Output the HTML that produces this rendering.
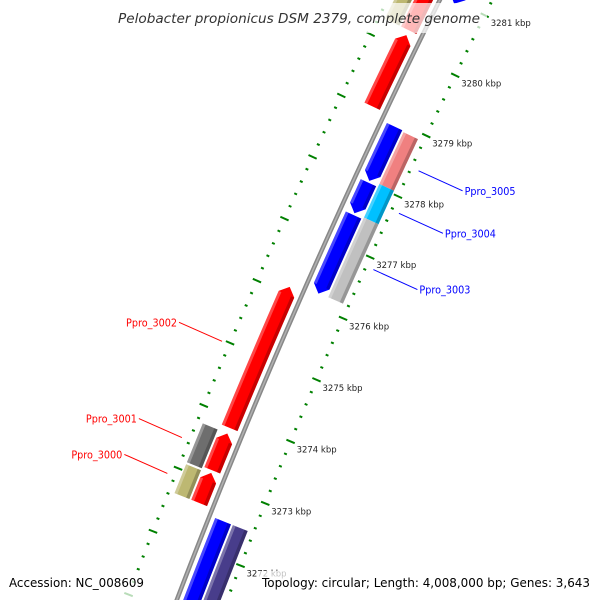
<!DOCTYPE html>
<html><head><meta charset="utf-8"><style>html,body{margin:0;padding:0;background:#fff;width:600px;height:600px;overflow:hidden}svg{display:block}</style></head>
<body>
<svg id="map" width="600" height="600" viewBox="0 0 600 600" xmlns="http://www.w3.org/2000/svg">
<g id="ticks"></g>
<g id="backbone"></g>
<g id="genes"></g>
<g id="labels"></g>
<g id="ticklabels"></g>
<rect x="112" y="3" width="375" height="30" fill="#fff" fill-opacity="0.72"/>
<rect x="4" y="571" width="148" height="29" fill="#fff" fill-opacity="0.72"/>
<rect x="258" y="571" width="342" height="29" fill="#fff" fill-opacity="0.72"/>
<text x="299" y="23" text-anchor="middle" font-family="DejaVu Sans, sans-serif" font-style="italic" font-size="13" fill="#333" textLength="362" lengthAdjust="spacingAndGlyphs">Pelobacter propionicus DSM 2379, complete genome</text>
<text x="9" y="587" font-family="DejaVu Sans, sans-serif" font-size="12" fill="#000" textLength="135" lengthAdjust="spacingAndGlyphs">Accession: NC_008609</text>
<text x="262" y="587" font-family="DejaVu Sans, sans-serif" font-size="12" fill="#000" textLength="328" lengthAdjust="spacingAndGlyphs">Topology: circular; Length: 4,008,000 bp; Genes: 3,643</text>
</svg>
<script>
const majorTicks = [3270, 3271, 3272, 3273, 3274, 3275, 3276, 3277, 3278, 3279, 3280, 3281, 3282];
const tickLabels = ["3272 kbp","3273 kbp","3274 kbp","3275 kbp","3276 kbp","3277 kbp","3278 kbp","3279 kbp","3280 kbp","3281 kbp"];
const tickLabelKbp = [3272, 3273, 3274, 3275, 3276, 3277, 3278, 3279, 3280, 3281];
const geneStart = [3280.3, 3280.3, 3279.05, 3273.84, 3273.16, 3272.64, 3273.13, 3272.64, 3280.95, 3278.03, 3277.5, 3276.19, 3278.05, 3277.5, 3276.2, 3270.5, 3270.5];
const geneEnd   = [3281.6, 3281.6, 3280.22, 3276.11, 3273.75, 3273.12, 3273.75, 3273.1, 3282.0, 3278.92, 3278.0, 3277.47, 3278.9, 3278.05, 3277.5, 3272.52, 3272.52];
const geneStrand = [1, 1, 1, 1, 1, 1, 1, 1, -1, -1, -1, -1, -1, -1, -1, -1, -1];
const geneRing = [1, 2, 1, 1, 1, 1, 2, 2, 1, 1, 1, 1, 2, 2, 2, 1, 2];
const geneArrow = [1, 0, 1, 1, 1, 1, 0, 0, 1, 1, 1, 1, 0, 0, 0, 1, 0];
const geneColor = ["#ff0000","#bdb872","#ff0000","#ff0000","#ff0000","#ff0000","#6e6e6e","#bdb872","#0000ff","#0000ff","#0000ff","#0000ff","#f08080","#00c0ff","#c0c0c0","#0000ff","#483d8b"];
const labelNames = ["Ppro_3005","Ppro_3004","Ppro_3003","Ppro_3002","Ppro_3001","Ppro_3000"];
const labelGene = [12, 13, 14, 3, 6, 7];

const NS = "http://www.w3.org/2000/svg";
const CX = 6615, CY = 3065, R = 6894;
function ang(k){ return (-155.79 + 0.56*(k-3277)) * Math.PI/180; }
function pos(k, d){ const a = ang(k), r = R + d; return [CX + r*Math.cos(a), CY + r*Math.sin(a)]; }
function mk(tag, parent, attrs){ const e = document.createElementNS(NS, tag); for (const k in attrs) e.setAttribute(k, attrs[k]); parent.appendChild(e); return e; }
function band(k0, k1, d0, d1){
  const pts = []; const n = 12;
  for (let i=0;i<=n;i++){ pts.push(pos(k0+(k1-k0)*i/n, d0)); }
  for (let i=n;i>=0;i--){ pts.push(pos(k0+(k1-k0)*i/n, d1)); }
  return pts.map(p=>p[0].toFixed(2)+","+p[1].toFixed(2)).join(" ");
}

// ticks
const tg = document.getElementById('ticks');
for (let k = 3270; k <= 3282.001; k += 0.2) {
  const kk = Math.round(k*10)/10;
  const major = Math.abs(kk - Math.round(kk)) < 1e-6 && majorTicks.includes(Math.round(kk));
  const len = major ? 4.5 : 1.5;
  [47, -47].forEach(c => {
    const a = pos(kk, c-len), b = pos(kk, c+len);
    const l = mk('line', tg, {x1:a[0],y1:a[1],x2:b[0],y2:b[1],stroke:'#008000','stroke-width':2});
    
    
  });
}
// backbone
const bg = document.getElementById('backbone');
const bpts = [];
for (let k=3269.5;k<=3283;k+=0.25) bpts.push(pos(k,0).map(v=>v.toFixed(2)).join(","));
const bl = mk('polyline', bg, {points:bpts.join(" "), fill:'none', stroke:'#888', 'stroke-width':4.5});


const bl2 = mk('polyline', bg, {points:bpts.join(" "), fill:'none', stroke:'#b0b0b0', 'stroke-width':1.5});



// genes
const gg = document.getElementById('genes');
for (let i=0;i<geneStart.length;i++){
  const s = geneStrand[i];
  const dIn = geneRing[i]===1 ? 6 : 25, dOut = geneRing[i]===1 ? 23 : 41;
  const d0 = s*dIn, d1 = s*dOut;
  const lo = Math.min(d0,d1), hi = Math.max(d0,d1);
  let k0 = geneStart[i], k1 = geneEnd[i];
  const ah = 0.12;
  let poly;
  if (geneArrow[i]) {
    const pts = [];
    if (s>0){
      const tipK = k1, bodyK = k1-ah;
      const n=10;
      for (let j=0;j<=n;j++) pts.push(pos(k0+(bodyK-k0)*j/n, lo));
      pts.push(pos(tipK,(lo+hi)/2));
      for (let j=n;j>=0;j--) pts.push(pos(k0+(bodyK-k0)*j/n, hi));
    } else {
      const tipK = k0, bodyK = k0+ah;
      const n=10;
      pts.push(pos(tipK,(lo+hi)/2));
      for (let j=0;j<=n;j++) pts.push(pos(bodyK+(k1-bodyK)*j/n, lo));
      for (let j=n;j>=0;j--) pts.push(pos(bodyK+(k1-bodyK)*j/n, hi));
    }
    poly = pts.map(p=>p[0].toFixed(2)+","+p[1].toFixed(2)).join(" ");
  } else {
    poly = band(k0,k1,lo,hi);
  }
  const g = mk('g', gg, {});
  
  
  const p = mk('polygon', g, {points:poly, fill:geneColor[i]});
  
  
  const bk0 = (geneArrow[i] && s<0) ? k0+ah : k0;
  const bk1 = (geneArrow[i] && s>0) ? k1-ah : k1;
  const dk = mk('polygon', g, {points:band(bk0,bk1,lo,lo+3.5), fill:'#000', 'fill-opacity':0.22});
  
  
  const lt = mk('polygon', g, {points:band(bk0,bk1,hi-3,hi), fill:'#fff', 'fill-opacity':0.28});
  
  
}

// gene labels
const lg = document.getElementById('labels');
for (let j=0;j<labelNames.length;j++){
  const gi = labelGene[j];
  const s = geneStrand[gi];
  const mid = (geneStart[gi]+geneEnd[gi])/2;
  const a = pos(mid, s*55);
  const col = s>0 ? '#ff0000' : '#0000ff';
  const b = s>0 ? [a[0]-43, a[1]-19] : [a[0]+44, a[1]+20];
  const ln = mk('line', lg, {x1:a[0],y1:a[1],x2:b[0],y2:b[1],stroke:col,'stroke-width':1});
  
  
  const t = mk('text', lg, {x: s>0 ? b[0]-2 : b[0]+2, y: b[1]+4, 'text-anchor': s>0?'end':'start', 'font-family':'DejaVu Sans, sans-serif','font-size':10.5, fill:col, textLength:51, lengthAdjust:'spacingAndGlyphs'});
  t.textContent = labelNames[j];
  
  
}

// tick labels
const tlg = document.getElementById('ticklabels');
for (let j=0;j<tickLabels.length;j++){
  const p = pos(tickLabelKbp[j], -47);
  const t = mk('text', tlg, {x:p[0]+6, y:p[1]+11, 'font-family':'DejaVu Sans, sans-serif','font-size':8.5, fill:'#222'});
  t.textContent = tickLabels[j];
  
  
}
</script>
</body></html>
